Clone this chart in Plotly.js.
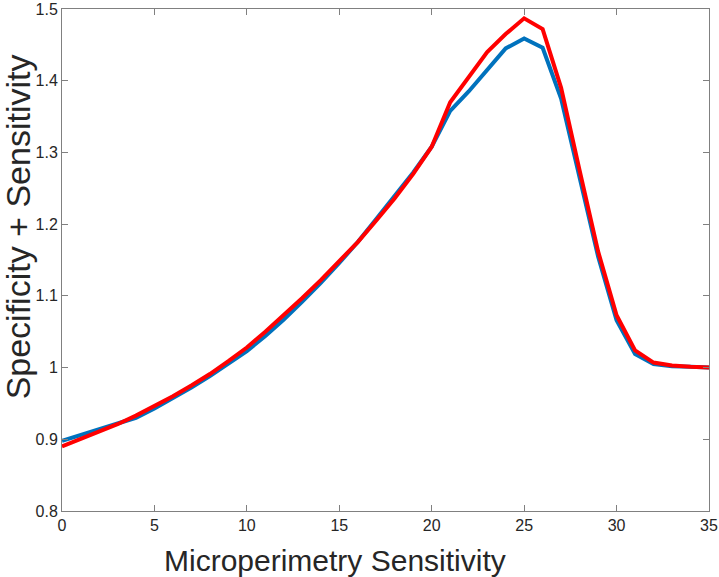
<!DOCTYPE html>
<html><head><meta charset="utf-8">
<script src="https://cdn.plot.ly/plotly-3.0.1.min.js"></script>
<style>body{margin:0;background:#fff}#chart{width:719px;height:577px}</style>
</head><body><div id="chart"></div>
<script>
const xVals = [0,1,2,3,4,5,6,7,8,9,10,11,12,13,14,15,16,17,18,19,20,21,22,23,24,25,26,27,28,29,30,31,32,33,34,35];
const blueVals = [0.898,0.906,0.914,0.921,0.930,0.943,0.957,0.972,0.988,1.005,1.023,1.044,1.067,1.092,1.118,1.146,1.175,1.207,1.240,1.272,1.308,1.358,1.385,1.415,1.445,1.459,1.446,1.375,1.262,1.155,1.066,1.019,1.005,1.002,1.001,1.000];
const redVals  = [0.890,0.900,0.911,0.921,0.933,0.946,0.960,0.975,0.991,1.009,1.028,1.050,1.073,1.097,1.122,1.148,1.175,1.205,1.236,1.270,1.308,1.370,1.405,1.440,1.465,1.487,1.472,1.390,1.275,1.162,1.073,1.024,1.007,1.003,1.001,1.000];
const xTicks = [0,5,10,15,20,25,30,35];
const yTicks = [0.8,0.9,1,1.1,1.2,1.3,1.4,1.5];
const yTickText = ['0.8','0.9','1','1.1','1.2','1.3','1.4','1.5'];
const xTitle = 'Microperimetry Sensitivity';
const yTitle = 'Specificity + Sensitivity';

const FONT = 'Liberation Sans, Arial, Helvetica, sans-serif';
const traces = [
  {x: xVals, y: blueVals, type:'scatter', mode:'lines', line:{color:'#0072BD', width:4}},
  {x: xVals, y: redVals, type:'scatter', mode:'lines', line:{color:'#FF0000', width:4}}
];
const axisCommon = {showgrid:false, zeroline:false, showline:true, mirror:'ticks', linecolor:'#808080', linewidth:1,
  ticks:'inside', ticklen:6, tickcolor:'#808080', ticklabeloverflow:'allow',
  tickfont:{family:FONT, size:16, color:'#262626'}};
const layout = {
  width:719, height:577, margin:{l:62, r:10, t:9, b:66},
  paper_bgcolor:'#fff', plot_bgcolor:'#fff', showlegend:false,
  xaxis: Object.assign({}, axisCommon, {range:[0,35], tickvals:xTicks, ticktext:xTicks.map(String)}),
  yaxis: Object.assign({}, axisCommon, {range:[0.8,1.5], tickvals:yTicks, ticktext:yTickText}),
  annotations: [
    {text:xTitle, xref:'paper', yref:'paper', x:0.422, y:-0.098, xanchor:'center', yanchor:'middle', showarrow:false,
     font:{family:FONT, size:30, color:'#262626'}},
    {text:yTitle, xref:'paper', yref:'paper', x:-0.068, y:0.565, xanchor:'center', yanchor:'middle', showarrow:false, textangle:-90,
     font:{family:FONT, size:34, color:'#262626'}}
  ]
};
Plotly.newPlot('chart', traces, layout, {staticPlot:true, displayModeBar:false});
</script></body></html>
